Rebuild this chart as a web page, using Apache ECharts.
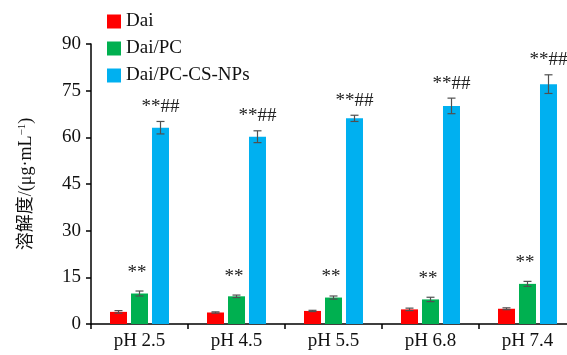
<!DOCTYPE html>
<html><head><meta charset="utf-8">
<script src="https://cdn.jsdelivr.net/npm/echarts@6/dist/echarts.min.js"></script>
<style>html,body{margin:0;padding:0;background:#fff}#c{width:567px;height:355px}</style>
</head><body><div id="c"></div>
<script>
const categories = ['pH 2.5', 'pH 4.5', 'pH 5.5', 'pH 6.8', 'pH 7.4'];
const seriesNames = ['Dai', 'Dai/PC', 'Dai/PC-CS-NPs'];
const daiVals = [3.9, 3.7, 4.2, 4.7, 4.9];
const daiErr = [0.4, 0.2, 0.2, 0.4, 0.3];
const pcVals = [9.8, 8.9, 8.5, 7.9, 12.9];
const pcErr = [0.8, 0.4, 0.5, 0.7, 0.8];
const npVals = [63.1, 60.2, 66.1, 70.1, 77.1];
const npErr = [2.0, 1.9, 1.0, 2.5, 3.0];
const pcMarks = ['**', '**', '**', '**', '**'];
const npMarks = ['**##', '**##', '**##', '**##', '**##'];
const colors = ['#ff0000', '#00b050', '#00b0f0'];
const yTicks = [0, 15, 30, 45, 60, 75, 90];

const FONT = 'Liberation Serif';
const BW = 17;
const offsets = [-21, 0, 21];

function errSeries(vals, errs, idx) {
  const data = vals.map((v, i) => [i, v, errs[i]]);
  return {
    type: 'custom', z: 5,
    data: data,
    renderItem: function (params, api) {
      const i = api.value(0), v = api.value(1), e = api.value(2);
      const x = api.coord([i, v])[0] + offsets[idx];
      const yt = api.coord([i, v + e])[1];
      const yb = api.coord([i, v - e])[1];
      const w = 4;
      const st = { stroke: '#505050', lineWidth: 1.2 };
      return { type: 'group', children: [
        { type: 'line', shape: { x1: x, y1: yt, x2: x, y2: yb }, style: st },
        { type: 'line', shape: { x1: x - w, y1: yt, x2: x + w, y2: yt }, style: st },
        { type: 'line', shape: { x1: x - w, y1: yb, x2: x + w, y2: yb }, style: st }
      ] };
    }
  };
}

function markSeries(vals, errs, marks, idx, gap, align, dx) {
  const data = vals.map((v, i) => [i, v, errs[i]]);
  return {
    type: 'custom', z: 5,
    data: data,
    renderItem: function (params, api) {
      const i = api.value(0), v = api.value(1), e = api.value(2);
      const x = api.coord([i, v])[0] + offsets[idx] + dx;
      const yt = api.coord([i, v + e])[1];
      return { type: 'text', style: { text: marks[params.dataIndex], x: x, y: yt - gap,
        textAlign: align, textVerticalAlign: 'bottom', fontFamily: FONT, fontSize: 19, fill: '#222' } };
    }
  };
}

const chart = echarts.init(document.getElementById('c'), null, { renderer: 'canvas' });
chart.setOption({
  animation: false,
  color: colors,
  textStyle: { fontFamily: FONT },
  grid: { left: 91, top: 44, bottom: 31, width: 485, containLabel: false, outerBoundsMode: 'none' },
  legend: {
    orient: 'vertical', left: 102, top: 7, itemWidth: 14, itemHeight: 14, itemGap: 8,
    icon: 'rect',
    textStyle: { fontFamily: FONT, fontSize: 19, color: '#111' },
    data: seriesNames
  },
  xAxis: {
    type: 'category', data: categories,
    axisLine: { lineStyle: { color: '#000', width: 1.5 } },
    axisTick: { show: true, length: 5, lineStyle: { color: '#000', width: 1.5 } },
    axisLabel: { fontFamily: FONT, fontSize: 19, color: '#111', margin: 8 }
  },
  yAxis: {
    type: 'value', min: 0, max: 90, interval: 15,
    name: '溶解度/(μg·mL{sup|−1})',
    nameLocation: 'middle', nameGap: 56, nameRotate: 90,
    nameTextStyle: { fontFamily: 'Liberation Serif, Noto Sans CJK SC', fontSize: 18, color: '#111',
      rich: { sup: { fontSize: 11, verticalAlign: 'top', lineHeight: 11, padding: [0,0,7,0], fontFamily: FONT } } },
    splitLine: { show: false },
    axisLine: { show: true, lineStyle: { color: '#000', width: 1.5 } },
    axisTick: { show: true, length: 5, lineStyle: { color: '#000', width: 1.5 } },
    axisLabel: { fontFamily: FONT, fontSize: 19, color: '#111', margin: 10,
      formatter: v => yTicks.indexOf(v) >= 0 ? String(v) : '' }
  },
  series: [
    { name: seriesNames[0], type: 'bar', data: daiVals, barWidth: BW, barGap: '23.5%' },
    { name: seriesNames[1], type: 'bar', data: pcVals, barWidth: BW, barGap: '23.5%' },
    { name: seriesNames[2], type: 'bar', data: npVals, barWidth: BW, barGap: '23.5%' },
    errSeries(daiVals, daiErr, 0),
    errSeries(pcVals, pcErr, 1),
    errSeries(npVals, npErr, 2),
    markSeries(pcVals, pcErr, pcMarks, 1, 9, 'left', -12),
    markSeries(npVals, npErr, npMarks, 2, 5, 'center', 0)
  ]
});
</script></body></html>
